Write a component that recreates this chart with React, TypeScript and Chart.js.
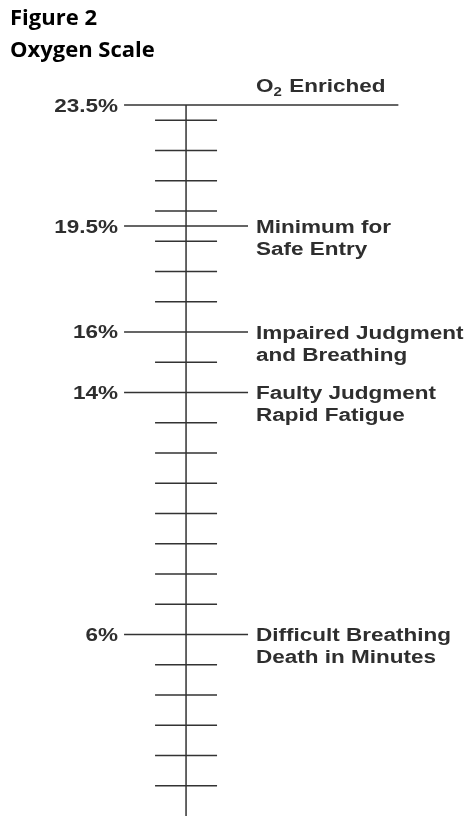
import React, { useEffect, useRef } from "react";
import { Chart, registerables } from "chart.js";

Chart.register(...registerables);

// ---- data ----
const titleLines = ["Figure 2", "Oxygen Scale"];
const levels = [23.5, 19.5, 16, 14, 6];
const levelLabels = ["23.5%", "19.5%", "16%", "14%", "6%"];
const levelNotes: string[][] = [
  ["O₂ Enriched"],
  ["Minimum for", "Safe Entry"],
  ["Impaired Judgment", "and Breathing"],
  ["Faulty Judgment", "Rapid Fatigue"],
  ["Difficult Breathing", "Death in Minutes"],
];
const minorTicks = [23, 22, 21, 20, 19, 18, 17, 15, 13, 12, 11, 10, 9, 8, 7, 5, 4, 3, 2, 1];
const scaleMin = 0;
const scaleMax = 23.5;

// ---- style ----
const LINE_COLOR = "#333333";
const TEXT_COLOR = "#2e2e2e";
const MINOR_HALF = 1;
const MAJOR_HALF = 2;
const ENRICHED_RIGHT = 6.85;
const LABEL_FONT = 'bold 18px "Liberation Sans", Arial, sans-serif';
const SUB_FONT = 'bold 12px "Liberation Sans", Arial, sans-serif';
const STRETCH = 1.25;

function drawRich(ctx: CanvasRenderingContext2D, text: string, x: number, y: number) {
  // handles subscript ₂
  const parts: { t: string; sub: boolean }[] = [];
  let buf = "";
  for (const ch of text) {
    if (ch === "₂") {
      if (buf) parts.push({ t: buf, sub: false });
      buf = "";
      parts.push({ t: "2", sub: true });
    } else buf += ch;
  }
  if (buf) parts.push({ t: buf, sub: false });
  let cx = x;
  for (const p of parts) {
    ctx.save();
    ctx.font = p.sub ? SUB_FONT : LABEL_FONT;
    ctx.textAlign = "left";
    ctx.textBaseline = "alphabetic";
    ctx.translate(cx, y + (p.sub ? 4 : 0));
    ctx.scale(STRETCH, 1);
    ctx.fillText(p.t, 0, 0);
    const w = ctx.measureText(p.t).width * STRETCH;
    ctx.restore();
    cx += w + (p.sub ? 1 : 0);
  }
}

function drawStretched(ctx: CanvasRenderingContext2D, text: string, x: number, y: number, align: CanvasTextAlign) {
  ctx.save();
  ctx.font = LABEL_FONT;
  ctx.textAlign = align;
  ctx.textBaseline = "alphabetic";
  ctx.translate(x, y);
  ctx.scale(STRETCH, 1);
  ctx.fillText(text, 0, 0);
  ctx.restore();
}

const labelPlugin = {
  id: "scaleLabels",
  afterDatasetsDraw(chart: any) {
    const ctx: CanvasRenderingContext2D = chart.ctx;
    const xs = chart.scales.x;
    const ys = chart.scales.y;
    ctx.save();
    ctx.fillStyle = TEXT_COLOR;
    const top = Math.max(...levels);
    levels.forEach((lv, i) => {
      const py = ys.getPixelForValue(lv);
      const leftX = xs.getPixelForValue(-MAJOR_HALF) - 6;
      drawStretched(ctx, levelLabels[i], leftX, py + 6.5, "right");
      const rightX = xs.getPixelForValue(MAJOR_HALF) + 8;
      const notes = levelNotes[i];
      if (lv === top) {
        drawRich(ctx, notes[0], rightX, py - 13);
      } else {
        notes.forEach((n, j) => drawRich(ctx, n, rightX, py + 7 + j * 22));
      }
    });
    ctx.restore();
  },
};

export default function App() {
  const ref = useRef<HTMLCanvasElement | null>(null);
  useEffect(() => {
    if (!ref.current) return;
    const minorData: any[] = [];
    minorTicks.forEach((t) => {
      minorData.push({ x: -MINOR_HALF, y: t }, { x: MINOR_HALF, y: t }, { x: 0, y: null });
    });
    const top = Math.max(...levels);
    const majorData: any[] = [];
    levels.forEach((lv) => {
      majorData.push(
        { x: -MAJOR_HALF, y: lv },
        { x: lv === top ? ENRICHED_RIGHT : MAJOR_HALF, y: lv },
        { x: 0, y: null }
      );
    });
    const common = {
      borderColor: LINE_COLOR,
      borderWidth: 1.5,
      pointRadius: 0,
      showLine: true,
      spanGaps: false,
      fill: false,
      clip: false as any,
    };
    const chart = new Chart(ref.current, {
      type: "line",
      data: {
        datasets: [
          { ...common, label: "spine", data: [{ x: 0, y: scaleMin - 1 }, { x: 0, y: scaleMax }] },
          { ...common, label: "minor", data: minorData },
          { ...common, label: "major", data: majorData },
        ] as any,
      },
      options: {
        animation: false,
        responsive: false,
        events: [],
        layout: { padding: { left: 10, right: 0, top: 0, bottom: 0 } },
        scales: {
          x: { type: "linear", min: -5.68, max: 9, display: false },
          y: { type: "linear", min: scaleMin, max: scaleMax, display: false },
        },
        plugins: {
          legend: { display: false },
          tooltip: { enabled: false },
          title: {
            display: true,
            text: titleLines,
            align: "start",
            color: "#000",
            font: { family: '"Open Sans", sans-serif', size: 22, weight: "bold", lineHeight: 1.43 },
            padding: { top: 3.5, bottom: 38.6 },
          },
        },
      } as any,
      plugins: [labelPlugin],
    });
    return () => chart.destroy();
  }, []);
  return (
    <div style={{ position: "absolute", left: 0, top: 0, width: 465, height: 816, background: "#fff" }}>
      <canvas ref={ref} width={465} height={816} style={{ display: "block" }} />
    </div>
  );
}
